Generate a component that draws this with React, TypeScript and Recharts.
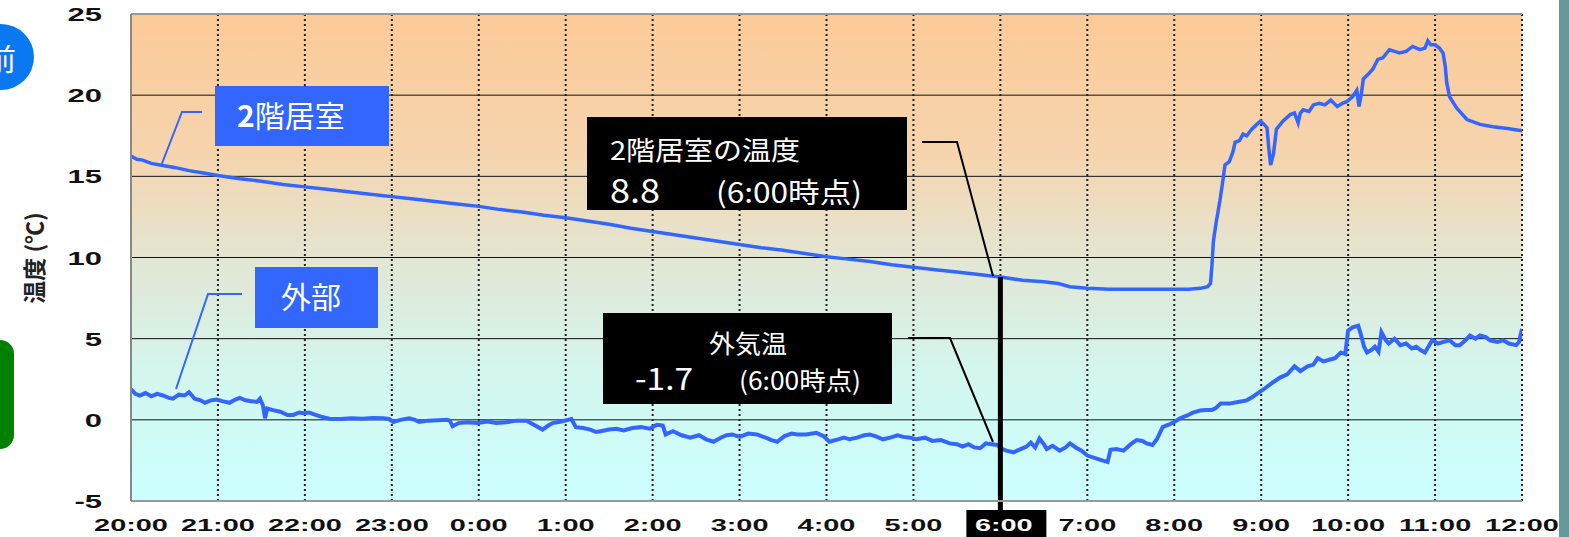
import React from 'react';
import { LineChart, Line, XAxis, YAxis, CartesianGrid, ReferenceLine } from 'recharts';

// minutes after 20:00 -> temperature (°C)
const hourLabels = [
  '20:00', '21:00', '22:00', '23:00', '0:00', '1:00', '2:00', '3:00', '4:00',
  '5:00', '6:00', '7:00', '8:00', '9:00', '10:00', '11:00', '12:00',
];
const hourTicks = hourLabels.map((_, i) => i * 60);
const tempTicks = [-5, 0, 5, 10, 15, 20, 25];
const markerMinute = 600; // 6:00

const roomSeries: [number, number][] = [
  [0, 16.25], [4, 16.05], [8, 16.0], [14, 15.8], [20, 15.7], [30, 15.55], [40, 15.35], [50, 15.2],
  [60, 15.05], [75, 14.85], [90, 14.7], [105, 14.5], [120, 14.35], [135, 14.2], [150, 14.05],
  [165, 13.9], [180, 13.75], [195, 13.6], [210, 13.45], [225, 13.3], [240, 13.15], [255, 12.95],
  [270, 12.8], [285, 12.6], [300, 12.45], [315, 12.25], [330, 12.05], [345, 11.8], [360, 11.6],
  [375, 11.4], [390, 11.2], [405, 11.0], [420, 10.8], [435, 10.6], [450, 10.45], [465, 10.25],
  [480, 10.05], [495, 9.9], [510, 9.75], [525, 9.55], [540, 9.4], [555, 9.25], [570, 9.1],
  [585, 8.95], [600, 8.8], [615, 8.6], [630, 8.5], [640, 8.4], [648, 8.2], [660, 8.1], [675, 8.05],
  [690, 8.05], [705, 8.05], [720, 8.05], [730, 8.05], [738, 8.1], [743, 8.2], [745, 8.4],
  [746, 9.5], [747, 11.0], [749, 12.2], [751.5, 13.5], [753.5, 14.7], [755, 15.7], [758, 15.9],
  [760.5, 16.5], [762, 17.1], [765, 17.2], [767.5, 17.6], [770, 17.5], [773.5, 17.9], [777, 18.2],
  [779.5, 18.4], [782, 18.2], [784, 18.0], [785.5, 16.5], [786.5, 15.7], [788.5, 16.4],
  [790.5, 17.9], [795, 18.4], [800, 18.8], [803, 18.9], [805.5, 18.3], [807, 18.9], [809, 19.1],
  [813, 19.0], [816, 19.4], [820, 19.5], [824, 19.4], [828, 19.7], [832.5, 19.3], [836, 19.5],
  [839, 19.6], [843, 19.9], [846, 20.3], [847.5, 19.3], [849, 20.0], [850.5, 21.0], [854, 21.3],
  [857, 21.6], [860.5, 22.2], [864, 22.3], [868.5, 22.8], [872, 22.7], [875.5, 22.6], [880, 22.7],
  [884.5, 23.0], [889.5, 22.8], [893, 22.9], [895, 23.35], [897, 23.1], [900, 23.1], [903, 22.9],
  [905.5, 22.6], [907, 21.8], [908, 20.8], [910, 19.9], [915, 19.2], [922, 18.5], [931, 18.2],
  [940, 18.05], [950, 17.95], [960, 17.8],
];

const outdoorSeries: [number, number][] = [
  [0, 1.9], [3, 1.6], [6, 1.5], [10, 1.65], [14, 1.45], [18, 1.6], [22, 1.5], [26, 1.35], [29, 1.3],
  [33, 1.55], [37, 1.5], [40, 1.7], [44, 1.3], [48, 1.2], [51, 1.05], [55, 1.2], [59, 1.25],
  [63, 1.15], [68, 1.05], [72, 1.25], [75, 1.35], [79, 1.2], [83, 1.15], [87, 1.1], [89, 1.3],
  [91, 0.9], [92.5, 0.1], [94, 0.7], [98, 0.6], [103, 0.5], [108, 0.3], [112, 0.3], [116, 0.45],
  [119, 0.4], [123, 0.45], [126, 0.35], [131, 0.2], [137, 0.07], [145, 0.05], [152, 0.1],
  [160, 0.07], [167, 0.12], [174, 0.1], [178, 0.05], [181, -0.13], [186, 0.0], [192, 0.1],
  [196, 0.0], [199, -0.13], [205, -0.05], [212, -0.02], [218, 0.0], [220, -0.05], [222, -0.4],
  [226, -0.2], [232, -0.15], [239, -0.2], [246, -0.1], [252, -0.2], [259, -0.15], [266, -0.05],
  [273, -0.05], [278, -0.3], [284, -0.6], [288, -0.35], [291, -0.2], [297, -0.1], [304, 0.05],
  [307, -0.45], [312, -0.5], [317, -0.6], [321, -0.75], [324, -0.7], [330, -0.6], [335, -0.55],
  [340, -0.65], [346, -0.5], [352, -0.45], [358, -0.55], [363, -0.3], [367, -0.35], [369, -0.9],
  [374, -0.7], [380, -0.95], [386, -1.1], [392, -0.95], [397, -1.2], [402, -1.35], [407, -1.1],
  [411, -0.95], [415, -0.9], [420, -1.05], [426, -0.85], [432, -0.9], [438, -1.1], [442, -1.25],
  [446, -1.35], [451, -1.0], [456, -0.85], [460, -0.9], [466, -0.9], [473, -0.8], [478, -1.0],
  [482, -1.35], [488, -1.2], [492, -1.1], [496, -1.2], [501, -1.1], [506, -0.95], [510, -0.9],
  [515, -1.05], [519, -1.2], [524, -1.1], [529, -0.95], [533, -1.05], [538, -1.1], [542, -1.2],
  [548, -1.1], [553, -1.3], [559, -1.25], [565, -1.45], [570, -1.5], [574, -1.65], [578, -1.5],
  [582, -1.7], [586, -1.75], [590, -1.45], [594, -1.5], [598, -1.55], [600, -1.75], [604, -1.9],
  [609, -2.0], [614, -1.8], [618, -1.65], [621, -1.4], [624, -1.7], [627, -1.15], [630, -1.5],
  [632, -1.8], [636, -1.6], [641, -1.9], [645, -1.7], [648, -1.45], [652, -1.7], [656, -1.9],
  [660, -2.2], [667, -2.4], [674, -2.6], [676, -1.85], [680, -1.8], [685, -1.9], [690, -1.5],
  [694, -1.25], [698, -1.3], [701, -1.45], [705, -1.55], [708, -1.2], [712, -0.45], [716, -0.3],
  [720, -0.13], [724, 0.1], [729, 0.27], [733, 0.45], [738, 0.58], [742, 0.6], [746, 0.6],
  [749, 0.75], [752, 1.0], [758, 1.0], [764, 1.1], [770, 1.2], [774, 1.4], [777, 1.6], [782, 1.9],
  [788, 2.3], [793, 2.6], [798, 2.8], [803, 3.3], [807, 3.0], [812, 3.3], [816, 3.4], [819, 3.8],
  [823, 3.6], [827, 3.7], [831, 3.8], [835, 4.15], [838, 4.05], [840, 5.5], [843, 5.7], [847, 5.8],
  [849, 5.2], [851, 4.5], [853, 4.15], [856, 4.3], [858.5, 4.5], [861, 4.2], [863, 5.4], [866, 4.9],
  [868, 4.7], [872, 5.0], [876, 4.6], [880, 4.7], [884, 4.4], [887, 4.5], [890, 4.3], [893, 4.15],
  [896, 4.6], [898, 4.9], [902, 4.7], [906, 4.8], [910, 4.9], [914, 4.6], [917, 4.6], [921, 4.9],
  [924, 5.2], [928, 5.0], [931, 5.2], [935, 5.1], [938, 4.9], [943, 4.8], [947, 4.9], [951, 4.7],
  [956, 4.6], [958, 4.8], [960, 5.6],
];

const roomData = roomSeries.map(([t, v]) => ({ t, v }));
const outdoorData = outdoorSeries.map(([t, v]) => ({ t, v }));

const W = 1569;
const H = 537;
const LINE_BLUE = '#3366ff';
const JP = '"Noto Sans CJK JP", "Noto Sans", sans-serif';
const TICK_FONT = '"Liberation Sans", Arial, sans-serif';

function HourTick({ x, y, payload }: any) {
  const label = hourLabels[hourTicks.indexOf(payload.value)] ?? '';
  const marked = payload.value === markerMinute;
  return (
    <g transform={`translate(${x},${y})`}>
      {marked && <rect x={-34} y={9} width={80} height={30} fill="#000" />}
      <text
        transform="scale(1.7,1)"
        x={marked ? 2 : 0}
        y={30}
        textAnchor="middle"
        fontFamily={TICK_FONT}
        fontWeight={700}
        fontSize={17}
        fill={marked ? '#fff' : '#111'}
      >
        {label}
      </text>
    </g>
  );
}

function TempTick({ x, y, payload }: any) {
  return (
    <g transform={`translate(${x},${y})`}>
      <text
        transform="scale(1.72,1)"
        x={-29 / 1.72}
        y={7}
        textAnchor="end"
        fontFamily={TICK_FONT}
        fontWeight={700}
        fontSize={18}
        fill="#111"
      >
        {payload.value}
      </text>
    </g>
  );
}

export default function App() {
  return (
    <div style={{ position: 'absolute', left: 0, top: 0, width: W, height: H, background: '#fff', overflow: 'hidden' }}>
      <LineChart width={W} height={H} margin={{ top: 14, right: 47, bottom: 0, left: 0 }}>
        <defs>
          <linearGradient id="bgGrad" x1="0" y1="0" x2="0" y2="1">
            <stop offset="0%" stopColor="#fcca98" />
            <stop offset="28%" stopColor="#f6d4ad" />
            <stop offset="52%" stopColor="#e2e7d6" />
            <stop offset="75%" stopColor="#d2f7ef" />
            <stop offset="100%" stopColor="#ccffff" />
          </linearGradient>
        </defs>
        <CartesianGrid vertical={false} stroke="#111" fill="url(#bgGrad)" fillOpacity={1} />
        <CartesianGrid horizontal={false} stroke="#222" strokeWidth={2} strokeDasharray="2 3" />
        <XAxis
          type="number"
          dataKey="t"
          domain={[0, 960]}
          ticks={hourTicks}
          interval={0}
          allowDataOverflow
          height={36}
          tickSize={0}
          tickMargin={0}
          tick={<HourTick />}
          axisLine={{ stroke: '#999', strokeWidth: 2 }}
          tickLine={false}
        />
        <YAxis
          type="number"
          domain={[-5, 25]}
          ticks={tempTicks}
          interval={0}
          width={131}
          tickSize={0}
          tickMargin={0}
          tick={<TempTick />}
          axisLine={{ stroke: '#888', strokeWidth: 2 }}
          tickLine={false}
        />
        <ReferenceLine y={25} stroke="#999" strokeWidth={2} />
        <Line
          data={outdoorData}
          dataKey="v"
          type="linear"
          stroke={LINE_BLUE}
          strokeWidth={4}
          dot={false}
          isAnimationActive={false}
        />
        <Line
          data={roomData}
          dataKey="v"
          type="linear"
          stroke={LINE_BLUE}
          strokeWidth={3.5}
          dot={false}
          isAnimationActive={false}
        />
        <ReferenceLine
          segment={[{ x: markerMinute, y: 8.8 }, { x: markerMinute, y: -5.6 }]}
          stroke="#000"
          strokeWidth={5}
          ifOverflow="visible"
        />
      </LineChart>

      <svg width={W} height={H} style={{ position: 'absolute', left: 0, top: 0, pointerEvents: 'none' }}>
        {/* page decorations */}
        <circle cx={1} cy={57} r={33} fill="#0a78f0" />
        <text x={-14} y={70} fontFamily={JP} fontSize={30} fill="#fff">前</text>
        <rect x={-20} y={340} width={34} height={109} rx={14} fill="#008000" />
        <rect x={1559} y={0} width={10} height={H} fill="#669999" />

        {/* axis title */}
        <text
          transform="translate(43,258) rotate(-90)"
          textAnchor="middle"
          fontFamily={JP}
          fontWeight={700}
          fontSize={23}
          fill="#222"
        >
          温度 (℃)
        </text>

        {/* series labels */}
        <polyline points="202,112 182,112 161,166" fill="none" stroke={LINE_BLUE} strokeWidth={2} />
        <rect x={215} y={86} width={174} height={60} fill={LINE_BLUE} />
        <text x={237} y={127} fontFamily={JP} fontSize={30} fill="#fff">
          <tspan fontWeight={700}>2</tspan>階居室
        </text>

        <polyline points="242,294 208,294 176,389" fill="none" stroke={LINE_BLUE} strokeWidth={2} />
        <rect x={255} y={267} width={123} height={61} fill={LINE_BLUE} />
        <text x={311} y={308} textAnchor="middle" fontFamily={JP} fontSize={30} fill="#fff">外部</text>

        {/* 6:00 readouts */}
        <rect x={587} y={117} width={320} height={93} fill="#000" />
        <text x={610} y={160} fontFamily={JP} fontSize={26} fill="#fff" textLength={190} lengthAdjust="spacingAndGlyphs">
          2階居室の温度
        </text>
        <text x={610} y={203} fontFamily={JP} fontSize={33} fill="#fff" textLength={50} lengthAdjust="spacingAndGlyphs">
          8.8
        </text>
        <text x={716} y={203} fontFamily={JP} fontSize={28} fill="#fff" textLength={146} lengthAdjust="spacingAndGlyphs">
          (6:00時点)
        </text>
        <polyline points="922,142 957,142 993,276" fill="none" stroke="#000" strokeWidth={2} />

        <rect x={603} y={313} width={289} height={91} fill="#000" />
        <text x={709} y={353} fontFamily={JP} fontSize={25} fill="#fff" textLength={78} lengthAdjust="spacingAndGlyphs">
          外気温
        </text>
        <text x={635} y={390} fontFamily={JP} fontSize={31} fill="#fff" textLength={58} lengthAdjust="spacingAndGlyphs">
          -1.7
        </text>
        <text x={739} y={390} fontFamily={JP} fontSize={25} fill="#fff" textLength={122} lengthAdjust="spacingAndGlyphs">
          (6:00時点)
        </text>
        <polyline points="908,338 950,338 993,442" fill="none" stroke="#000" strokeWidth={2} />
      </svg>
    </div>
  );
}
